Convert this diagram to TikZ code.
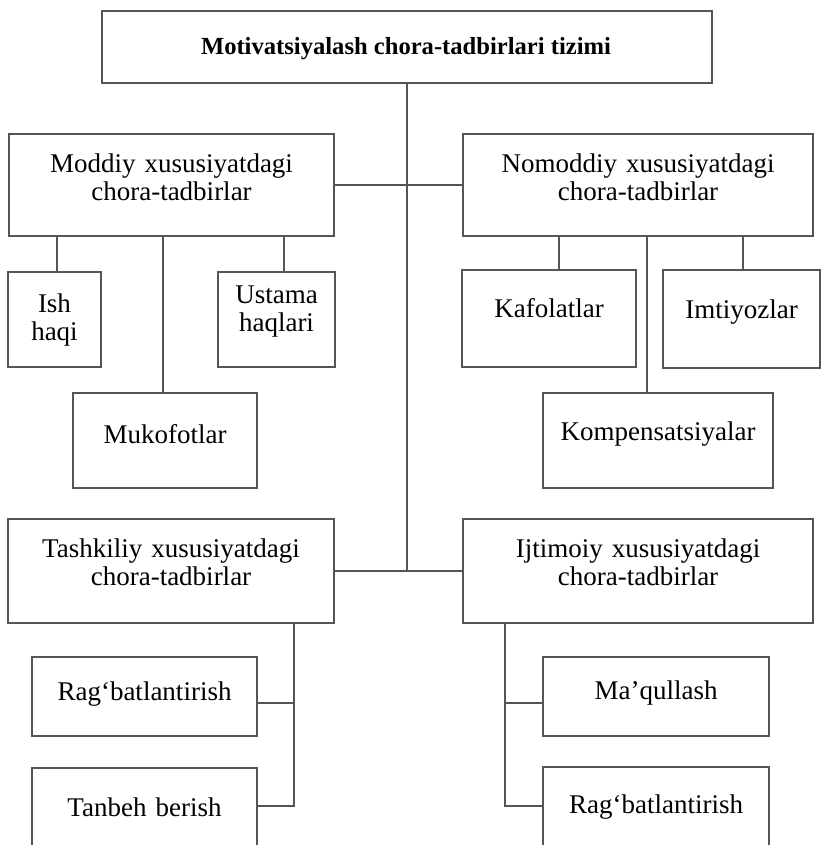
\documentclass[tikz,border=0pt]{standalone}
\usepackage{fontspec}
\setmainfont[WordSpace=1.5]{Liberation Serif}
\newfontfamily\titlefont[WordSpace=1.0]{Liberation Serif}
\usetikzlibrary{calc}
\definecolor{linec}{HTML}{555555}
\tikzset{
  box/.style={draw=linec, line width=1.7pt, rectangle, inner sep=0pt},
  conn/.style={draw=linec, line width=1.7pt},
  lbl/.style={anchor=base, inner sep=0pt, align=center, text width=#1,
              font=\fontsize{27}{28}\selectfont},
  lbl/.default=320pt,
  ttl/.style={anchor=base, inner sep=0pt, font=\titlefont\fontsize{24.6}{28}\selectfont\bfseries},
}
% \boxat{name}{x1}{y1}{x2}{y2}
\newcommand\boxat[5]{%
  \node[box, minimum width={(#4-#2)*1pt}, minimum height={(#5-#3)*1pt}]
    (#1) at ({(#2+#4)/2},{(#3+#5)/2}) {};}
\begin{document}
\begin{tikzpicture}[x=1pt,y=-1pt]
\useasboundingbox (0,0) rectangle (822,845);
\clip (0,0) rectangle (822,845);

% boxes
\boxat{title}{102}{11}{712}{83}
\boxat{moddiy}{9}{134}{334}{236}
\boxat{nomoddiy}{463}{134}{813}{236}
\boxat{ish}{8}{272}{101}{367}
\boxat{ustama}{218}{272}{335}{367}
\boxat{mukofot}{73}{393}{257}{488}
\boxat{kafolat}{462}{270}{636}{367}
\boxat{imtiyoz}{663}{270}{820}{368}
\boxat{kompens}{543}{393}{773}{488}
\boxat{tashkil}{8}{519}{334}{623}
\boxat{ijtimoi}{463}{519}{813}{623}
\boxat{ragA}{32}{657}{257}{736}
\boxat{tanbeh}{32}{768}{257}{846}
\boxat{maqul}{543}{657}{769}{736}
\boxat{ragB}{543}{767}{769}{846}

% texts
\node[ttl] (t-title) at (406,55) {Motivatsiyalash chora-tadbirlari tizimi};
\node[lbl] (t-moddiy) at (171.5,173) {Moddiy xususiyatdagi\\chora-tadbirlar};
\node[lbl] (t-nomoddiy) at (638,173) {Nomoddiy xususiyatdagi\\chora-tadbirlar};
\node[lbl=90pt] (t-ish) at (54.5,312) {Ish\\haqi};
\node[lbl=115pt] (t-ustama) at (276.5,303) {Ustama\\haqlari};
\node[lbl=180pt] (t-mukofot) at (165,443) {Mukofotlar};
\node[lbl=170pt] (t-kafolat) at (549,317) {Kafolatlar};
\node[lbl=155pt] (t-imtiyoz) at (741.5,318) {Imtiyozlar};
\node[lbl=225pt] (t-kompens) at (658,440) {Kompensatsiyalar};
\node[lbl] (t-tashkil) at (171,557) {Tashkiliy xususiyatdagi\\chora-tadbirlar};
\node[lbl] (t-ijtimoi) at (638,557) {Ijtimoiy xususiyatdagi\\chora-tadbirlar};
\node[lbl=220pt] (t-ragA) at (144.5,700) {Rag‘batlantirish};
\node[lbl=220pt] (t-tanbeh) at (144.5,816) {Tanbeh berish};
\node[lbl=220pt] (t-maqul) at (656,699) {Ma’qullash};
\node[lbl=220pt] (t-ragB) at (656,813) {Rag‘batlantirish};

% trunk and main horizontals
\draw[conn] (title.south) -- (title.south |- tashkil.east);
\draw[conn] (moddiy.east) -- (nomoddiy.west);
\draw[conn] (tashkil.east) -- (ijtimoi.west);

% moddiy children
\coordinate (cIsh) at ($(ish.north)+(2.5,0)$);
\draw[conn] (cIsh) -- (cIsh |- moddiy.south);
\coordinate (cUst) at ($(ustama.north)+(7.5,0)$);
\draw[conn] (cUst) -- (cUst |- moddiy.south);
\coordinate (cMuk) at ($(mukofot.north)+(-2,0)$);
\draw[conn] (cMuk) -- (cMuk |- moddiy.south);

% nomoddiy children
\coordinate (cKaf) at ($(kafolat.north)+(10,0)$);
\draw[conn] (cKaf) -- (cKaf |- nomoddiy.south);
\coordinate (cImt) at ($(imtiyoz.north)+(1.5,0)$);
\draw[conn] (cImt) -- (cImt |- nomoddiy.south);
\coordinate (cKom) at ($(kompens.north)+(-11,0)$);
\draw[conn] (cKom) -- (cKom |- nomoddiy.south);

% tashkiliy children
\coordinate (cT) at ($(tashkil.south east)+(-41,0)$);
\coordinate (cRA) at ($(ragA.east)+(0,6.5)$);
\coordinate (cTb) at ($(tanbeh.east)+(0,-1)$);
\draw[conn] (cT) |- (cTb);
\draw[conn] (cRA) -- (cRA -| cT);

% ijtimoiy children
\coordinate (cJ) at ($(ijtimoi.south west)+(43,0)$);
\coordinate (cMq) at ($(maqul.west)+(0,6.5)$);
\coordinate (cRB) at ($(ragB.west)+(0,-0.5)$);
\draw[conn] (cJ) |- (cRB);
\draw[conn] (cMq) -- (cMq -| cJ);
\end{tikzpicture}
\end{document}
